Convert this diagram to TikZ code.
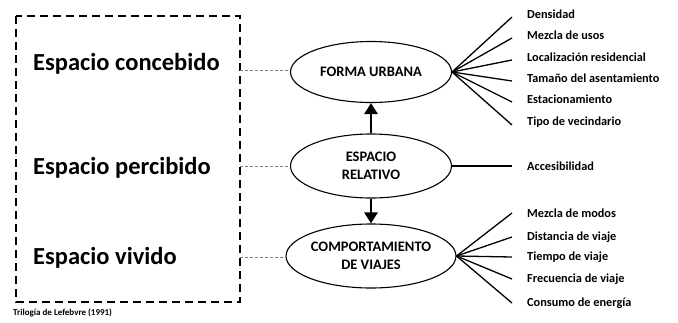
\documentclass[tikz,border=0pt]{standalone}
\usepackage{fontspec}
\setmainfont{Carlito}
\usetikzlibrary{shapes.geometric,arrows.meta}
\begin{document}
\begin{tikzpicture}[x=1pt,y=-1pt,
  espacio/.style={font=\fontsize{24.5}{28}\selectfont\bfseries,anchor=west,inner sep=0},
  nivel/.style={draw,line width=1.1pt,ellipse,minimum width=161,minimum height=61,inner sep=0,
    align=center,font=\fontsize{14.5}{18}\selectfont\bfseries},
  factor/.style={font=\fontsize{12.3}{14}\selectfont\bfseries,anchor=west,inner sep=0},
  rayo/.style={line width=1.3pt},
  enlace/.style={gray,densely dashed,line width=0.8pt},
  flecha/.style={line width=2.8pt,-{Triangle[width=13pt,length=11pt]}}]
\useasboundingbox (0,0) rectangle (678,322);

%trilogia
\draw[line width=1.6pt,dash pattern=on 8pt off 5pt] (16,16) rectangle (240,302);
\node[espacio] (concebido) at (33,64) {Espacio concebido};
\node[espacio] (percibido) at (33,168) {Espacio percibido};
\node[espacio] (vivido) at (33,258) {Espacio vivido};
\node[font=\fontsize{9}{10}\selectfont\bfseries,anchor=west,inner sep=0] (fuente) at (13,313) {Trilogía de Lefebvre (1991)};

%niveles
\node[nivel] (forma) at (371,72) {FORMA URBANA};
\node[nivel,minimum height=64] (relativo) at (371,166) {ESPACIO\\RELATIVO};
\node[nivel,minimum height=64] (comport) at (371,256) {COMPORTAMIENTO\\DE VIAJES};

%enlaces con el recuadro
\coordinate (b1) at (240,70);
\coordinate (b2) at (240,166);
\coordinate (b3) at (240,257);
\draw[enlace] (b1) -- (forma.west |- b1);
\draw[enlace] (b2) -- (relativo.west);
\draw[enlace] (b3) -- (comport.west |- b3);

%flechas
\draw[flecha] (relativo.north) -- (forma.south);
\draw[flecha] (relativo.south) -- (comport.north);

%forma urbana
\foreach \y/\txt [count=\i] in {17/Densidad,38/Mezcla de usos,60/Localización residencial,
    81/Tamaño del asentamiento,102/Estacionamiento,125/Tipo de vecindario} {
  \coordinate (f\i) at (512,\y);
  \draw[rayo] (forma.east) -- (f\i);
  \node[factor] (ft\i) at (527,\y-3) {\txt};
}

%espacio relativo
\coordinate (r1) at (512,166);
\draw[rayo] (relativo.east) -- (r1);
\node[factor] (rt1) at (527,166) {Accesibilidad};

%comportamiento de viajes
\foreach \y/\txt [count=\i] in {213/Mezcla de modos,237/Distancia de viaje,257/Tiempo de viaje,
    279/Frecuencia de viaje,303/Consumo de energía} {
  \coordinate (c\i) at (512,\y);
  \draw[rayo] (comport.east) -- (c\i);
  \node[factor] (ct\i) at (527,\y) {\txt};
}

\end{tikzpicture}
\end{document}
